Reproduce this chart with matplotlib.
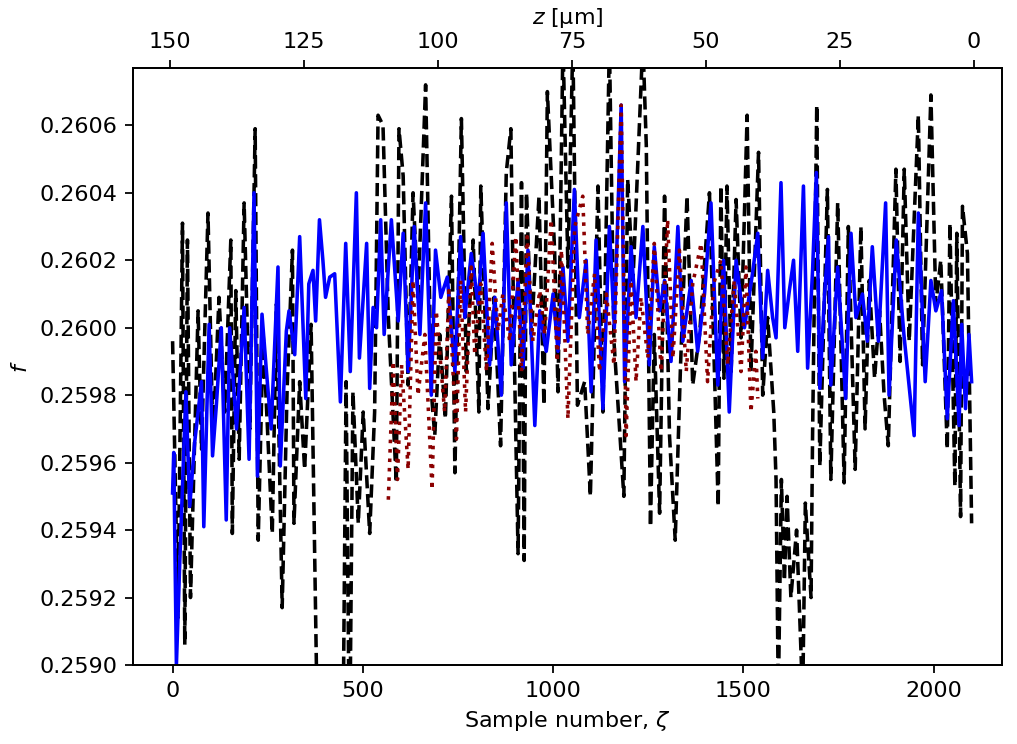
import matplotlib
matplotlib.use('Agg')
import matplotlib.pyplot as plt
from matplotlib.ticker import FormatStrFormatter

# black dashed series
black_x = [0, 14, 26, 32, 39, 47, 67, 76, 93, 106, 122, 137, 153, 157, 166, 175, 188, 203, 217, 225,
           238, 262, 273, 288, 301, 315, 319, 334, 347, 364, 380, 400, 430, 448, 456, 465, 474, 488,
           501, 518, 531, 540, 553, 567, 588, 595, 606, 619, 632, 645, 665, 680, 689, 702, 717, 733,
           742, 759, 772, 790, 805, 810, 829, 845, 862, 877, 889, 897, 908, 917, 924, 930, 943, 963,
           976, 985, 1004, 1013, 1026, 1039, 1052, 1064, 1083, 1098, 1118, 1131, 1148, 1160, 1186,
           1196, 1210, 1236, 1245, 1256, 1266, 1280, 1293, 1306, 1321, 1335, 1352, 1367, 1385, 1411,
           1434, 1441, 1449, 1457, 1468, 1481, 1494, 1510, 1520, 1540, 1551, 1564, 1580, 1586, 1592,
           1600, 1608, 1615, 1625, 1640, 1656, 1663, 1678, 1682, 1693, 1701, 1721, 1730, 1748, 1765,
           1776, 1794, 1809, 1820, 1831, 1845, 1858, 1870, 1881, 1901, 1912, 1923, 1936, 1960, 1971,
           1993, 2006, 2019, 2036, 2043, 2056, 2061, 2071, 2076, 2089, 2100]
black_y = [0.25996, 0.25914, 0.26031, 0.25906, 0.26026, 0.25920, 0.26005, 0.25964, 0.26034, 0.25966,
           0.26009, 0.25975, 0.26026, 0.25939, 0.26011, 0.25961, 0.26037, 0.25970, 0.26059, 0.25937,
           0.25998, 0.25939, 0.26007, 0.25917, 0.25982, 0.26023, 0.25942, 0.25984, 0.25958, 0.26001,
           0.25885, 0.25840, 0.25860, 0.25880, 0.25984, 0.25870, 0.25981, 0.25942, 0.25975, 0.25939,
           0.25975, 0.26063, 0.26060, 0.26003, 0.25954, 0.26059, 0.26045, 0.25983, 0.26040, 0.26009,
           0.26072, 0.25981, 0.25968, 0.25998, 0.25973, 0.26039, 0.25957, 0.26062, 0.25987, 0.26026,
           0.25975, 0.26042, 0.25976, 0.26009, 0.25965, 0.26046, 0.26059, 0.25998, 0.25933, 0.26043,
           0.25931, 0.26040, 0.25998, 0.26039, 0.25977, 0.26070, 0.26023, 0.25981, 0.26085, 0.26018,
           0.26085, 0.25977, 0.25984, 0.25950, 0.26042, 0.25975, 0.26085, 0.25996, 0.25950, 0.26044,
           0.26014, 0.26085, 0.26054, 0.25941, 0.25998, 0.25945, 0.26039, 0.25968, 0.25937, 0.25989,
           0.26039, 0.25983, 0.25998, 0.26040, 0.25947, 0.26042, 0.25985, 0.26042, 0.25987, 0.26038,
           0.25997, 0.26063, 0.25987, 0.26052, 0.25980, 0.26003, 0.25975, 0.25955, 0.25890, 0.25955,
           0.25925, 0.25950, 0.25920, 0.25940, 0.25890, 0.25948, 0.25920, 0.25968, 0.26066, 0.25959,
           0.26041, 0.25955, 0.26037, 0.25954, 0.26030, 0.25958, 0.26030, 0.25970, 0.26014, 0.25985,
           0.26005, 0.25980, 0.25965, 0.26047, 0.25990, 0.26047, 0.25996, 0.26063, 0.25989, 0.26069,
           0.26007, 0.26020, 0.25964, 0.26031, 0.25953, 0.26028, 0.25944, 0.26036, 0.26022, 0.25942]

# blue solid series
blue_x = [0, 3, 10, 19, 35, 45, 58, 76, 82, 96, 105, 115, 128, 141, 150, 168, 188, 201, 214, 223,
          235, 246, 259, 277, 283, 299, 306, 321, 334, 350, 358, 369, 376, 386, 395, 402, 413, 426,
          441, 455, 467, 483, 491, 510, 518, 527, 536, 547, 556, 575, 593, 606, 619, 635, 650, 665,
          680, 691, 705, 722, 742, 757, 768, 785, 803, 816, 833, 847, 864, 877, 890, 908, 921, 934,
          952, 965, 982, 1000, 1013, 1026, 1039, 1056, 1069, 1087, 1100, 1113, 1131, 1148, 1161,
          1179, 1188, 1205, 1218, 1236, 1253, 1266, 1280, 1293, 1310, 1328, 1341, 1363, 1380, 1398,
          1415, 1433, 1448, 1463, 1481, 1503, 1524, 1538, 1551, 1564, 1577, 1586, 1599, 1609, 1621,
          1632, 1643, 1658, 1669, 1682, 1692, 1701, 1713, 1724, 1730, 1748, 1769, 1783, 1796, 1813,
          1826, 1839, 1855, 1874, 1883, 1902, 1922, 1949, 1960, 1978, 1993, 2006, 2021, 2036, 2052,
          2067, 2074, 2084, 2093, 2100]
blue_y = [0.25951, 0.25963, 0.25900, 0.25931, 0.25981, 0.25947, 0.25966, 0.25984, 0.25941, 0.26001,
          0.25962, 0.25977, 0.26000, 0.25943, 0.26000, 0.25970, 0.26006, 0.25961, 0.26040, 0.25956,
          0.26004, 0.25988, 0.25970, 0.26018, 0.25959, 0.25999, 0.26005, 0.25992, 0.26027, 0.25979,
          0.26013, 0.26017, 0.26002, 0.26032, 0.26020, 0.26009, 0.26015, 0.26016, 0.25978, 0.26025,
          0.25987, 0.26040, 0.25991, 0.26025, 0.25982, 0.26006, 0.26000, 0.26032, 0.25998, 0.26032,
          0.26002, 0.26028, 0.25987, 0.26030, 0.25998, 0.26037, 0.25980, 0.26023, 0.26009, 0.26015,
          0.25987, 0.26027, 0.26003, 0.26022, 0.26007, 0.26028, 0.25989, 0.26009, 0.25980, 0.26037,
          0.25989, 0.26014, 0.25988, 0.26023, 0.25971, 0.26005, 0.25993, 0.26010, 0.25993, 0.26018,
          0.25996, 0.26041, 0.26003, 0.26020, 0.25981, 0.26026, 0.25976, 0.26030, 0.26000, 0.26066,
          0.25984, 0.26024, 0.26003, 0.26030, 0.25989, 0.26024, 0.26005, 0.26014, 0.25990, 0.26030,
          0.25996, 0.26014, 0.25993, 0.26010, 0.26037, 0.25983, 0.26020, 0.25975, 0.26020, 0.26000,
          0.26016, 0.26028, 0.25991, 0.26017, 0.26003, 0.25997, 0.26043, 0.26000, 0.26011, 0.26020,
          0.25993, 0.26042, 0.25988, 0.26017, 0.26046, 0.25982, 0.26009, 0.26027, 0.25983, 0.26018,
          0.25979, 0.26028, 0.26003, 0.26010, 0.25996, 0.26024, 0.25996, 0.26037, 0.25980, 0.26026,
          0.25998, 0.25968, 0.26034, 0.25984, 0.26014, 0.26005, 0.26011, 0.25973, 0.26008, 0.25971,
          0.26001, 0.25976, 0.25998, 0.25984]

# dark red dotted series (middle section only)
red_x = [567, 580, 591, 602, 619, 632, 645, 663, 682, 693, 715, 726, 746, 757, 770, 785, 794, 810,
         825, 840, 855, 868, 886, 902, 917, 932, 947, 965, 978, 995, 1011, 1022, 1039, 1057, 1078,
         1091, 1109, 1122, 1140, 1160, 1179, 1192, 1205, 1218, 1231, 1249, 1266, 1284, 1301, 1315,
         1332, 1350, 1367, 1389, 1406, 1422, 1441, 1459, 1476, 1494, 1507, 1520, 1533, 1538]
red_y = [0.25949, 0.25990, 0.25955, 0.25989, 0.25958, 0.26014, 0.25980, 0.25998, 0.25952, 0.26005,
         0.25975, 0.26011, 0.25967, 0.26014, 0.25975, 0.26018, 0.25992, 0.26013, 0.25987, 0.26025,
         0.25999, 0.26010, 0.25996, 0.26027, 0.25987, 0.26027, 0.25996, 0.26011, 0.25998, 0.26032,
         0.25990, 0.26023, 0.25973, 0.26030, 0.26039, 0.25998, 0.26016, 0.25987, 0.26010, 0.25989,
         0.26066, 0.25968, 0.26014, 0.25984, 0.26009, 0.25991, 0.26025, 0.25987, 0.26032, 0.25991,
         0.26023, 0.25987, 0.26013, 0.26025, 0.25984, 0.26013, 0.26020, 0.25989, 0.26014, 0.25987,
         0.26018, 0.25975, 0.25993, 0.25979]

z_ticks = [150, 125, 100, 75, 50, 25, 0]
y_ticks = [0.2590, 0.2592, 0.2594, 0.2596, 0.2598, 0.2600, 0.2602, 0.2604, 0.2606]

plt.rcParams['font.size'] = 10

fig = plt.figure(figsize=(1017 / 160, 744 / 160), dpi=160)
ax = fig.add_axes([0.1308, 0.1062, 0.8545, 0.8024])

ax.plot(black_x, black_y, color='black', linestyle='--', linewidth=1.6)
ax.plot(blue_x, blue_y, color='blue', linestyle='-', linewidth=1.6)
ax.plot(red_x, red_y, color='darkred', linestyle=':', linewidth=1.6)

ax.set_xlim(-104, 2180)
ax.set_ylim(0.2590, 0.26077)
ax.set_yticks(y_ticks)
ax.yaxis.set_major_formatter(FormatStrFormatter('%.4f'))
ax.set_xticks([0, 500, 1000, 1500, 2000])
ax.set_xlabel(r'Sample number, $\zeta$')
ax.set_ylabel(r'$f$')

# top axis: depth z, 0 at the end of the scan
ax2 = ax.twiny()
x0, x1 = ax.get_xlim()
ax2.set_xlim(150 * (2106 - x0) / 2112.6, 150 * (2106 - x1) / 2112.6)
ax2.set_xticks(z_ticks)
ax2.set_xlabel(r'$z$ [µm]')

fig.savefig('out.png', dpi=160)
